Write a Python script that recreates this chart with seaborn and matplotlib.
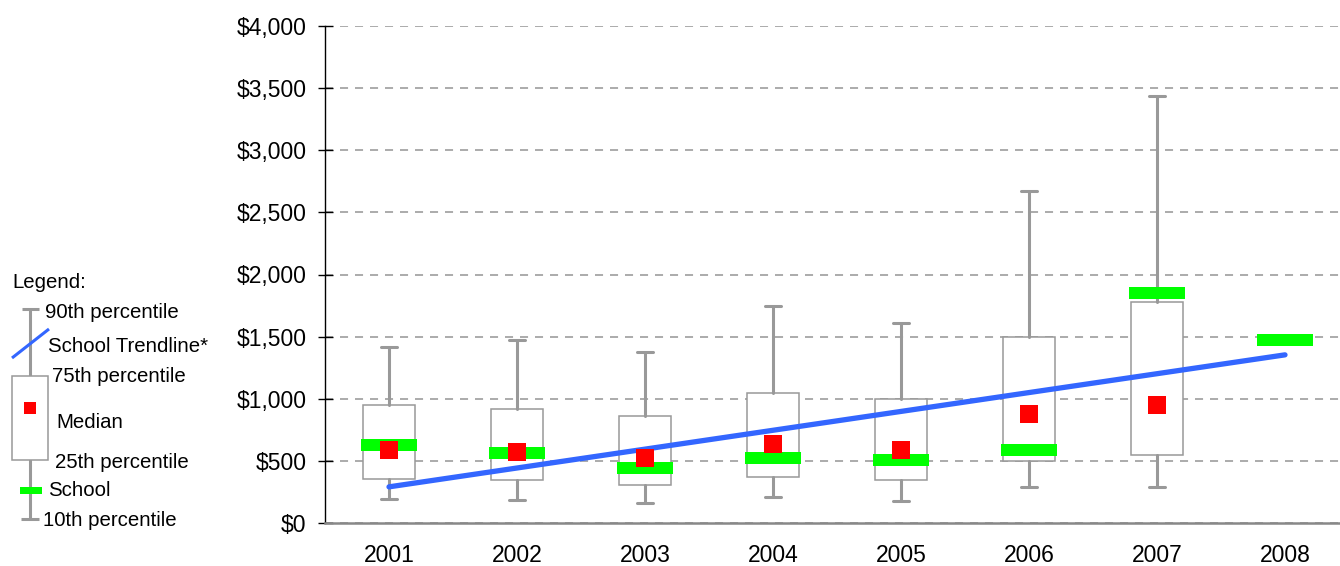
import numpy as np
import matplotlib
matplotlib.use('Agg')
import matplotlib.pyplot as plt
import seaborn as sns
from matplotlib.patches import Rectangle
from matplotlib.ticker import FuncFormatter

# ---- data ----
years = ['2001', '2002', '2003', '2004', '2005', '2006', '2007', '2008']
p10 = [196, 185, 161, 207, 175, 290, 290]
p25 = [357, 346, 306, 370, 346, 502, 547]
median = [588, 571, 526, 638, 588, 875, 952]
p75 = [947, 917, 861, 1044, 1000, 1500, 1779]
p90 = [1419, 1473, 1374, 1746, 1610, 2670, 3434]
school = [628, 566, 445, 523, 504, 588, 1848, 1475]
yticks = [0, 500, 1000, 1500, 2000, 2500, 3000, 3500, 4000]
legend_labels = ['90th percentile', 'School Trendline*', '75th percentile', 'Median',
                 '25th percentile', 'School', '10th percentile']

GRAY = '#999999'
GREEN = '#00FF00'
RED = '#FF0000'
BLUE = '#3366FF'

sns.set_style('white')
plt.rcParams['font.family'] = ['Liberation Sans', 'DejaVu Sans']
plt.rcParams['lines.scale_dashes'] = False
plt.rcParams['text.color'] = 'black'

W, H = 1340, 566
fig = plt.figure(figsize=(W / 100, H / 100), dpi=100)
fig.patch.set_facecolor('white')

# ---------------- main chart ----------------
ax = fig.add_axes([325 / W, 43 / H, 1024 / W, 497 / H])
pos_box = np.arange(len(p10))
pos_all = np.arange(len(years))

stats = [dict(whislo=a, q1=b, med=c, q3=d, whishi=e, label=y)
         for a, b, c, d, e, y in zip(p10, p25, median, p75, p90, years)]
ax.bxp(stats, positions=pos_box, widths=0.4, capwidths=0.12, showfliers=False,
       patch_artist=True,
       boxprops=dict(facecolor='white', edgecolor=GRAY, linewidth=1.1),
       whiskerprops=dict(color=GRAY, linewidth=2.2),
       capprops=dict(color=GRAY, linewidth=2.2),
       medianprops=dict(linewidth=0),
       zorder=2)

# school values as thick green bars
bars = ax.hlines(school, pos_all - 0.22, pos_all + 0.22, colors=GREEN,
                 linewidth=12 * 0.72, zorder=3)
bars.set_capstyle('butt')

# school trendline (linear fit of school values)
sns.regplot(x=pos_all, y=np.array(school, dtype=float), scatter=False, ci=None, ax=ax,
            color=BLUE, truncate=True,
            line_kws=dict(linewidth=3.8, solid_capstyle='round', zorder=4))

# medians as red squares
sns.scatterplot(x=pos_box, y=median, marker='s', s=(18 * 0.72) ** 2, color=RED,
                edgecolor='none', linewidth=0, ax=ax, zorder=5)

ax.set_xlim(-0.5, 7.5)
ax.set_ylim(0, 4000)
ax.set_xticks(pos_all)
ax.set_xticklabels(years)
ax.set_yticks(yticks)
ax.yaxis.set_major_formatter(FuncFormatter(lambda v, p: f'${v:,.0f}'))
ax.set_xlabel('')
ax.set_ylabel('')

ax.yaxis.grid(True, linestyle=(0, (5.8, 5)), color='#959595', linewidth=1.1)
ax.xaxis.grid(False)
ax.set_axisbelow(True)

ax.tick_params(axis='y', direction='inout', length=10.8, width=1, color='black',
               labelsize=16.5, pad=8, labelcolor='black', left=True)
ax.tick_params(axis='x', length=0, pad=15, labelsize=16.5, labelcolor='black')

for s in ['top', 'right']:
    ax.spines[s].set_visible(False)
ax.spines['left'].set_color('black')
ax.spines['left'].set_linewidth(1)
ax.spines['bottom'].set_color('#888888')
ax.spines['bottom'].set_linewidth(1.8)

# ---------------- schematic legend (pixel coordinates) ----------------
lax = fig.add_axes([0, 0, 1, 1], zorder=-1)
lax.set_xlim(0, W)
lax.set_ylim(H, 0)
lax.axis('off')
lax.patch.set_alpha(0)

lax.plot([30, 30], [309, 519], color=GRAY, lw=2.2, solid_capstyle='butt')
lax.plot([22, 39], [309, 309], color=GRAY, lw=2.2, solid_capstyle='butt')
lax.plot([21, 39], [519, 519], color=GRAY, lw=2.2, solid_capstyle='butt')
lax.add_patch(Rectangle((12, 376), 35.5, 84, facecolor='white', edgecolor=GRAY, lw=1.1, zorder=3))
lax.add_patch(Rectangle((23.5, 401.5), 12, 12, facecolor=RED, edgecolor='none', zorder=4))
lax.add_patch(Rectangle((20, 486.5), 21.5, 7, facecolor=GREEN, edgecolor='none', zorder=4))
lax.plot([12, 49], [358, 329], color=BLUE, lw=2.2, solid_capstyle='butt', zorder=5)

fs = 14.7
lax.text(12, 282, 'Legend:', fontsize=fs, va='center', ha='left', color='black')
label_xy = [(45, 313), (48, 346), (52, 377), (56, 422), (55, 463), (48, 490), (43, 520)]
for (x, y), t in zip(label_xy, legend_labels):
    lax.text(x, y, t, fontsize=fs, va='center', ha='left', color='black')

fig.savefig('out.png', dpi=100, facecolor='white')
